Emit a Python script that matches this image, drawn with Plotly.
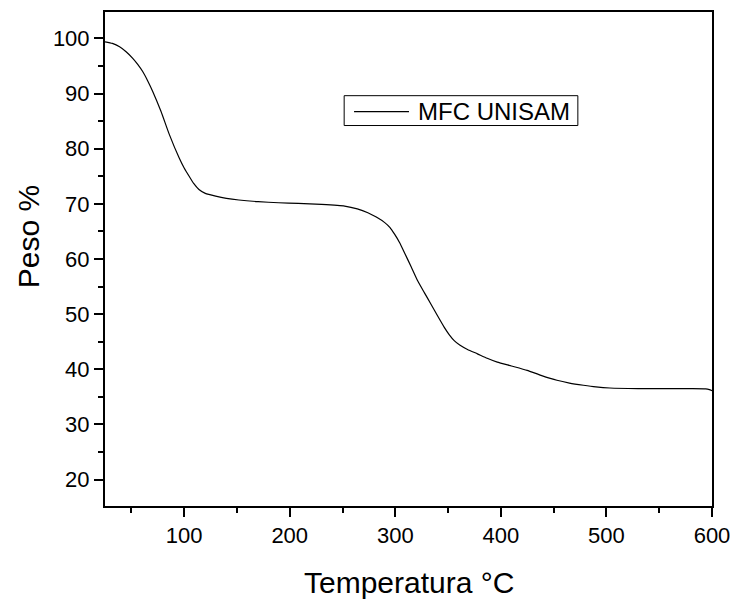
import plotly.graph_objects as go

temperatura = [25, 32, 38.8, 45, 51.3, 56, 60.7, 65.5, 70.2, 78, 85.9, 95.3, 100, 104.7,
               109, 114, 120, 129.8, 140, 151.8, 170, 189.5, 208, 230, 252, 264, 274,
               282, 290, 295, 299.3, 304, 308.8, 315, 321.3, 327.5, 333.8, 340, 346.4,
               351, 355.8, 361, 368.4, 377.8, 387, 396.6, 410, 424.9, 438, 453.1, 465,
               478.2, 490, 503.3, 530, 556.7, 580, 594, 597.5, 600]
peso = [99.4, 99.1, 98.5, 97.6, 96.4, 95.3, 94.0, 92.3, 90.4, 86.8, 82.6, 78.3, 76.5, 75.0,
        73.7, 72.6, 71.9, 71.4, 71.0, 70.7, 70.4, 70.2, 70.1, 69.9, 69.6, 69.1, 68.4,
        67.6, 66.6, 65.7, 64.5, 63.0, 61.1, 58.6, 56.0, 53.9, 51.8, 49.7, 47.6,
        46.3, 45.2, 44.4, 43.6, 42.8, 42.0, 41.3, 40.6, 39.8, 38.9, 38.0, 37.5,
        37.1, 36.8, 36.6, 36.5, 36.5, 36.5, 36.45, 36.3, 36.1]
x_ticks = [100, 200, 300, 400, 500, 600]
y_ticks = [20, 30, 40, 50, 60, 70, 80, 90, 100]
series_name = "MFC UNISAM"

FONT = "Arial, Liberation Sans, sans-serif"

fig = go.Figure()
fig.add_trace(go.Scatter(x=temperatura, y=peso, mode="lines", name=series_name,
                         line=dict(color="black", width=1.2, shape="spline", smoothing=0.5),
                         showlegend=False))

axis_common = dict(showgrid=False, zeroline=False, showline=True, linecolor="black",
                   linewidth=2, mirror=True, ticks="outside", ticklen=9, tickwidth=2,
                   tickcolor="black", tickfont=dict(family=FONT, size=22, color="black"))

fig.update_xaxes(range=[25, 600], tickvals=x_ticks,
                 minor=dict(dtick=50, tick0=0, ticks="outside", ticklen=5, tickwidth=2,
                            tickcolor="black"),
                 **axis_common)
fig.update_yaxes(range=[15.2, 104.8], tickvals=y_ticks,
                 minor=dict(dtick=5, tick0=0, ticks="outside", ticklen=5, tickwidth=2,
                            tickcolor="black"),
                 **axis_common)

# legend box drawn manually
fig.add_shape(type="rect", xref="paper", yref="paper", x0=0.394, x1=0.779, y0=0.7702, y1=0.8306,
              line=dict(color="black", width=1), fillcolor="white", layer="above")
fig.add_shape(type="line", xref="paper", yref="paper", x0=0.4103, x1=0.5008, y0=0.7984, y1=0.7984,
              line=dict(color="black", width=1.2))
fig.add_annotation(xref="paper", yref="paper", x=0.5123, y=0.7984, text=series_name,
                   showarrow=False, xanchor="left", yanchor="middle",
                   font=dict(family=FONT, size=24, color="black"))

# axis titles
fig.add_annotation(xref="paper", yref="paper", x=0.5, y=-0.155, text="Temperatura °C",
                   showarrow=False, xanchor="center", yanchor="middle",
                   font=dict(family=FONT, size=30, color="black"))
fig.add_annotation(xref="paper", yref="paper", x=-0.126, y=0.545, text="Peso %",
                   showarrow=False, xanchor="center", yanchor="middle", textangle=-90,
                   font=dict(family=FONT, size=30, color="black"))

fig.update_layout(width=740, height=601, margin=dict(l=105, r=24, t=10, b=95),
                  plot_bgcolor="white", paper_bgcolor="white", showlegend=False,
                  font=dict(family=FONT, color="black"))

fig.write_html("out.html")
